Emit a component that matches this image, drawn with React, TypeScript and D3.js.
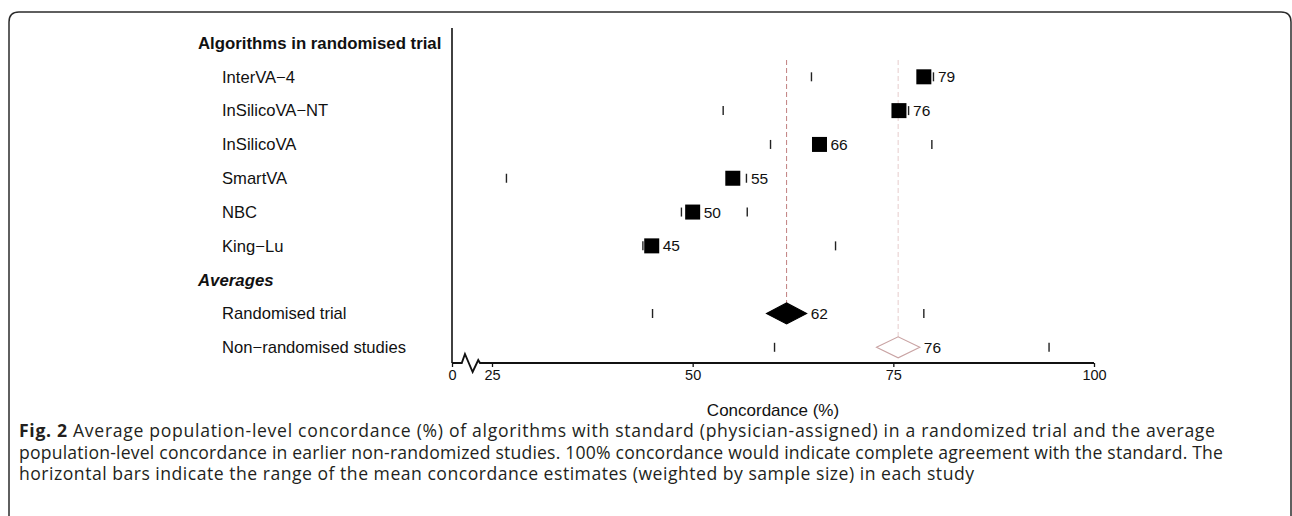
import React, { useEffect, useRef } from "react";
import * as d3 from "d3";

// algorithms in the randomised trial
const categories = ["InterVA−4", "InSilicoVA−NT", "InSilicoVA", "SmartVA", "NBC", "King−Lu"];
const estimates = [78.8, 75.7, 65.8, 55.0, 50.0, 44.9];
const rangeLow = [64.8, 53.8, 59.7, 26.8, 48.6, 43.8];
const rangeHigh = [80.0, 76.9, 79.8, 56.7, 56.8, 67.8];

// averages
const avgLabels = ["Randomised trial", "Non−randomised studies"];
const avgEstimates = [61.7, 75.6];
const avgLow = [59.2, 72.9];
const avgHigh = [64.2, 78.3];
const avgRangeLow = [45.0, 60.2];
const avgRangeHigh = [78.8, 94.4];

const xTicks = [0, 25, 50, 75, 100];
const axisBreak = [6.1, 8.1, 12.9, 16.4, 17.5];

const captionLines = [
  ["Fig. 2", " Average population-level concordance (%) of algorithms with standard (physician-assigned) in a randomized trial and the average"],
  ["", "population-level concordance in earlier non-randomized studies. 100% concordance would indicate complete agreement with the standard. The"],
  ["", "horizontal bars indicate the range of the mean concordance estimates (weighted by sample size) in each study"],
];
const captionWidths = [1196, 1204, 955];

const W = 1292;
const H = 516;
const FONT = "Liberation Sans, Arial, Helvetica, sans-serif";

export default function App() {
  const ref = useRef(null);

  useEffect(() => {
    const svg = d3.select(ref.current);
    svg.selectAll("*").remove();

    // broken axis: 0 squeezed next to 25
    const x = d3.scaleLinear().domain([0, 25, 100]).range([452, 492, 1094]);
    const rows = ["h1", ...categories, "h2", ...avgLabels];
    const y = d3.scalePoint().domain(rows).range([43, 347.3]);
    const axisY = 363;

    // frame
    svg.append("path")
      .attr("d", `M9,${H} V22 Q9,12 19,12 H1281 Q1291,12 1291,22 V${H}`)
      .attr("fill", "none")
      .attr("stroke", "#2b2b2b")
      .attr("stroke-width", 1.5);

    // reference lines at the two averages
    const refColors = ["#c07f7f", "#e6cccc"];
    avgEstimates.forEach((v, i) => {
      svg.append("line")
        .attr("x1", x(v)).attr("x2", x(v))
        .attr("y1", 60).attr("y2", y(avgLabels[i]) - 10)
        .attr("stroke", refColors[i])
        .attr("stroke-width", 1)
        .attr("stroke-dasharray", "5,3");
    });

    // y axis line
    svg.append("line")
      .attr("x1", 452).attr("x2", 452)
      .attr("y1", 28).attr("y2", axisY)
      .attr("stroke", "#111").attr("stroke-width", 1.6);

    // x axis with zigzag break
    const zz = [
      [x(0), axisY],
      [x(axisBreak[0]), axisY],
      [x(axisBreak[1]), axisY - 9],
      [x(axisBreak[2]), axisY + 9],
      [x(axisBreak[3]), axisY - 3],
      [x(axisBreak[4]), axisY],
      [x(100), axisY],
    ];
    svg.append("path")
      .attr("d", d3.line()(zz))
      .attr("fill", "none")
      .attr("stroke", "#111")
      .attr("stroke-width", 1.9);

    const gx = svg.append("g").attr("transform", `translate(0,${axisY})`);
    gx.call(d3.axisBottom(x).tickValues(xTicks).tickSize(4).tickPadding(3).tickFormat(d3.format("d")));
    gx.select(".domain").remove();
    gx.selectAll(".tick line").attr("stroke", "#111").attr("stroke-width", 1.3);
    gx.selectAll(".tick text")
      .attr("font-family", FONT)
      .attr("font-size", 14.5)
      .attr("fill", "#111");

    svg.append("text")
      .attr("x", (x(0) + x(100)) / 2)
      .attr("y", 416)
      .attr("text-anchor", "middle")
      .attr("font-family", FONT)
      .attr("font-size", 17)
      .attr("fill", "#111")
      .text("Concordance (%)");

    // row labels
    const lbl = svg.append("g").attr("font-family", FONT).attr("fill", "#111");
    lbl.append("text")
      .attr("x", 198).attr("y", y("h1")).attr("dy", "0.35em")
      .attr("font-size", 16.8).attr("font-weight", "bold")
      .text("Algorithms in randomised trial");
    lbl.append("text")
      .attr("x", 198).attr("y", y("h2")).attr("dy", "0.35em")
      .attr("font-size", 16.8).attr("font-weight", "bold").attr("font-style", "italic")
      .text("Averages");
    lbl.selectAll("text.row")
      .data([...categories, ...avgLabels])
      .join("text")
      .attr("class", "row")
      .attr("x", 222)
      .attr("y", (d) => y(d))
      .attr("dy", "0.35em")
      .attr("font-size", 16.6)
      .text((d) => d);

    // range bars
    const tickH = 9;
    const allNames = [...categories, ...avgLabels];
    const lows = [...rangeLow, ...avgRangeLow];
    const highs = [...rangeHigh, ...avgRangeHigh];
    const rg = svg.append("g").attr("stroke", "#222").attr("stroke-width", 1.4);
    allNames.forEach((name, i) => {
      [lows[i], highs[i]].forEach((v) => {
        rg.append("line")
          .attr("x1", x(v)).attr("x2", x(v))
          .attr("y1", y(name) - tickH / 2).attr("y2", y(name) + tickH / 2);
      });
    });

    // squares + value labels
    const sq = 15;
    categories.forEach((name, i) => {
      const cx = x(estimates[i]);
      const cy = y(name);
      svg.append("rect")
        .attr("x", cx - sq / 2).attr("y", cy - sq / 2)
        .attr("width", sq).attr("height", sq)
        .attr("fill", "#000");
      let start = cx + sq / 2;
      const hx = x(rangeHigh[i]);
      if (hx > cx && hx < start + 10) start = hx + 1;
      svg.append("text")
        .attr("x", start + 3.5).attr("y", cy).attr("dy", "0.36em")
        .attr("font-family", FONT).attr("font-size", 15.5).attr("fill", "#111")
        .text(Math.round(estimates[i]));
    });

    // diamonds
    avgLabels.forEach((name, i) => {
      const cy = y(name);
      const l = x(avgLow[i]);
      const r = x(avgHigh[i]);
      const c = x(avgEstimates[i]);
      const hh = 10.5;
      svg.append("path")
        .attr("d", `M${l},${cy} L${c},${cy - hh} L${r},${cy} L${c},${cy + hh} Z`)
        .attr("fill", i === 0 ? "#000" : "#fff")
        .attr("stroke", i === 0 ? "#000" : "#c9a3a3")
        .attr("stroke-width", 1.1);
      svg.append("text")
        .attr("x", r + 4).attr("y", cy).attr("dy", "0.36em")
        .attr("font-family", FONT).attr("font-size", 15.5).attr("fill", "#111")
        .text(Math.round(avgEstimates[i]));
    });

    // caption
    const cap = svg.append("g")
      .attr("font-family", "Open Sans, sans-serif")
      .attr("font-size", 17.6)
      .attr("fill", "#231f20");
    captionLines.forEach(([bold, rest], i) => {
      const t = cap.append("text")
        .attr("x", 19).attr("y", 437 + i * 21.7)
        .attr("textLength", captionWidths[i])
        .attr("lengthAdjust", "spacing");
      if (bold) t.append("tspan").attr("font-weight", "bold").text(bold);
      t.append("tspan").text(rest);
    });
  }, []);

  return (
    <svg
      ref={ref}
      width={W}
      height={H}
      style={{ position: "absolute", left: 0, top: 0, background: "#fff" }}
    />
  );
}
